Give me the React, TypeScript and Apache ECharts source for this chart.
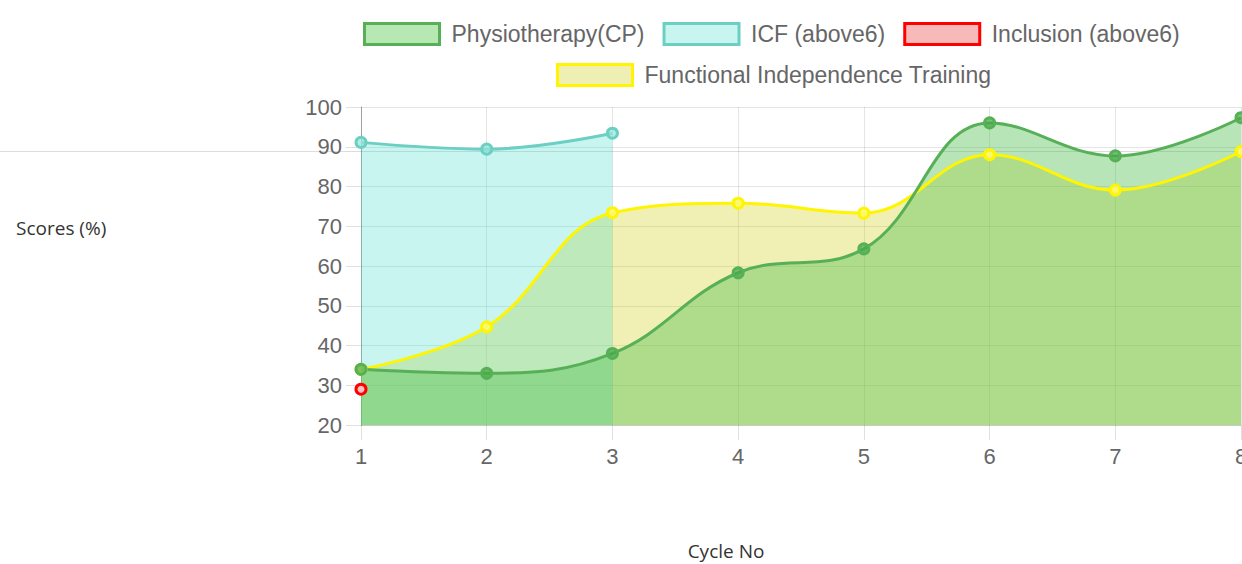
import React, { useEffect, useRef } from "react";
import * as echarts from "echarts";

const categories = ["1", "2", "3", "4", "5", "6", "7", "8"];
const physioValues = [34, 33, 38, 58.3, 64.3, 96, 87.7, 97.3];
const icfValues = [91.1, 89.4, 93.4];
const inclusionValues = [29];
const fitValues = [34, 44.7, 73.4, 75.8, 73.3, 88, 79.1, 88.8];
const yTicks = { min: 20, max: 100, interval: 10 };

const NAMES = {
  physio: "Physiotherapy(CP)",
  icf: "ICF (above6)",
  inclusion: "Inclusion (above6)",
  fit: "Functional Independence Training",
};

const COLORS = {
  physio: { line: "#57b057", fill: "rgba(76,190,76,0.4)", legendFill: "#b7e8b4", point: "rgba(70,170,70,0.7)" },
  icf: { line: "#6ccfc3", fill: "rgba(75,222,205,0.3)", legendFill: "#c9f5f0", point: "rgba(150,230,220,0.7)" },
  inclusion: { line: "#ff0000", fill: "rgba(255,0,0,0.27)", legendFill: "#f8b9b9", point: "rgba(255,190,190,1)" },
  fit: { line: "#fff500", fill: "rgba(205,205,5,0.3)", legendFill: "#efefb3", point: "rgba(255,250,120,0.8)" },
};

function makeSeries(key: keyof typeof COLORS, name: string, data: number[], withArea: boolean) {
  const c = COLORS[key];
  return {
    type: "line",
    name,
    data,
    smooth: 0.4,
    symbol: "circle",
    symbolSize: 10,
    showSymbol: true,
    lineStyle: { color: c.line, width: 3 },
    itemStyle: { color: c.point, borderColor: c.line, borderWidth: 3 },
    areaStyle: withArea ? { color: c.fill, origin: "start", opacity: 1 } : undefined,
    emphasis: { disabled: true },
  };
}

export default function App() {
  const ref = useRef<HTMLDivElement>(null);
  useEffect(() => {
    if (!ref.current) return;
    const chart = echarts.init(ref.current, null, { renderer: "svg" });
    const legendText = { fontSize: 23, color: "#666", fontFamily: "Liberation Sans", padding: [0, 0, 0, 7] };
    const legendItem = (key: keyof typeof COLORS, name: string) => ({
      name,
      itemStyle: { color: COLORS[key].legendFill, borderColor: COLORS[key].line, borderWidth: 3 },
    });
    chart.setOption({
      animation: false,
      legend: [
        {
          left: 363,
          top: 22,
          padding: 0,
          icon: "rect",
          itemWidth: 75,
          itemHeight: 21,
          itemGap: 18,
          textStyle: legendText,
          selectedMode: false,
          data: [legendItem("physio", NAMES.physio), legendItem("icf", NAMES.icf), legendItem("inclusion", NAMES.inclusion)],
        },
        {
          left: 556,
          top: 63,
          padding: 0,
          icon: "rect",
          itemWidth: 75,
          itemHeight: 21,
          itemGap: 18,
          textStyle: legendText,
          selectedMode: false,
          data: [legendItem("fit", NAMES.fit)],
        },
      ],
      grid: { left: 361, right: 303, top: 107, bottom: 139, containLabel: false, outerBoundsMode: "none" },
      xAxis: {
        type: "category",
        data: categories,
        boundaryGap: false,
        axisLine: { lineStyle: { color: "rgba(0,0,0,0.12)" } },
        axisTick: { show: true, length: 15, lineStyle: { color: "rgba(0,0,0,0.12)" } },
        splitLine: { show: true, lineStyle: { color: "rgba(0,0,0,0.1)" } },
        axisLabel: { fontSize: 22, color: "#666", fontFamily: "Liberation Sans", margin: 20 },
      },
      yAxis: {
        type: "value",
        min: yTicks.min,
        max: yTicks.max,
        interval: yTicks.interval,
        axisLine: { show: true, lineStyle: { color: "rgba(0,0,0,0.3)" } },
        axisTick: { show: true, length: 15, lineStyle: { color: "rgba(0,0,0,0.12)" } },
        splitLine: { show: true, lineStyle: { color: "rgba(0,0,0,0.1)" } },
        axisLabel: { fontSize: 22, color: "#666", fontFamily: "Liberation Sans", margin: 19 },
      },
      graphic: [
        { type: "line", shape: { x1: 0, y1: 151.5, x2: 1544, y2: 151.5 }, style: { stroke: "#dcdcdc", lineWidth: 1 }, z: 0 },
        {
          type: "text",
          x: 16,
          y: 228,
          style: { text: "Scores (%)", fontSize: 19, fontFamily: "Open Sans", fill: "#333", verticalAlign: "middle" },
        },
        {
          type: "text",
          x: 726,
          y: 551,
          style: { text: "Cycle No", fontSize: 19, fontFamily: "Open Sans", fill: "#333", align: "center", verticalAlign: "middle" },
        },
      ],
      series: [
        makeSeries("fit", NAMES.fit, fitValues, true),
        makeSeries("inclusion", NAMES.inclusion, inclusionValues, true),
        makeSeries("icf", NAMES.icf, icfValues, true),
        makeSeries("physio", NAMES.physio, physioValues, true),
      ],
    });
    return () => chart.dispose();
  }, []);
  return (
    <div style={{ position: "fixed", left: 0, top: 0, width: 1242, height: 564, overflow: "hidden", background: "#fff" }}>
      <div ref={ref} style={{ width: 1544, height: 564 }} />
    </div>
  );
}
